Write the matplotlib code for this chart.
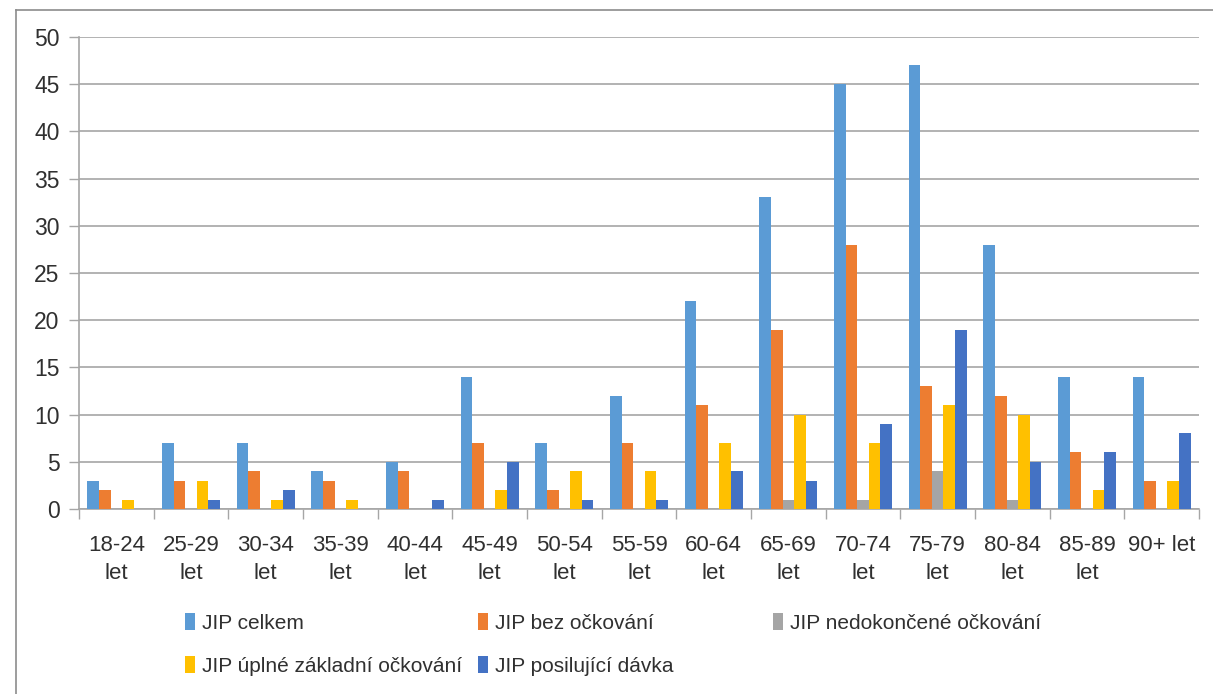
import numpy as np
import matplotlib
matplotlib.use("Agg")
import matplotlib.pyplot as plt
from matplotlib.lines import Line2D
from matplotlib.patches import Patch

plt.rcParams["font.family"] = ["Liberation Sans Narrow", "Liberation Sans", "DejaVu Sans"]

CATEGORIES = ["18-24\nlet", "25-29\nlet", "30-34\nlet", "35-39\nlet", "40-44\nlet",
              "45-49\nlet", "50-54\nlet", "55-59\nlet", "60-64\nlet", "65-69\nlet",
              "70-74\nlet", "75-79\nlet", "80-84\nlet", "85-89\nlet", "90+ let"]

SERIES_NAMES = ["JIP celkem", "JIP bez očkování", "JIP nedokončené očkování",
                "JIP úplné základní očkování", "JIP posilující dávka"]

jip_celkem = [3, 7, 7, 4, 5, 14, 7, 12, 22, 33, 45, 47, 28, 14, 14]
jip_bez = [2, 3, 4, 3, 4, 7, 2, 7, 11, 19, 28, 13, 12, 6, 3]
jip_nedokoncene = [0, 0, 0, 0, 0, 0, 0, 0, 0, 1, 1, 4, 1, 0, 0]
jip_uplne = [1, 3, 1, 1, 0, 2, 4, 4, 7, 10, 7, 11, 10, 2, 3]
jip_posilujici = [0, 1, 2, 0, 1, 5, 1, 1, 4, 3, 9, 19, 5, 6, 8]

COLORS = ["#5B9BD5", "#ED7D31", "#A5A5A5", "#FFC000", "#4472C4"]
TEXT = "#303030"
GRID = "#A6A6A6"

series = [jip_celkem, jip_bez, jip_nedokoncene, jip_uplne, jip_posilujici]

W, H = 1213, 694
fig = plt.figure(figsize=(W / 100, H / 100), dpi=100)
ax = fig.add_axes([79 / W, 1 - 509 / H, (1199 - 79) / W, (509 - 37) / H])

x = np.arange(len(CATEGORIES)) + 0.5
bw = 0.155
for i, (vals, col) in enumerate(zip(series, COLORS)):
    ax.bar(x + (i - 2) * bw, vals, width=bw, color=col, zorder=3)

ax.set_xlim(0, len(CATEGORIES))
ax.set_ylim(0, 50)
ax.set_yticks(np.arange(0, 51, 5))
ax.yaxis.grid(True, color=GRID, linewidth=1.2, zorder=0)
ax.tick_params(axis="y", length=7, width=1, color=GRID, labelsize=16.5,
               labelcolor=TEXT, pad=7)

ax.set_xticks(np.arange(len(CATEGORIES) + 1), minor=False)
ax.set_xticklabels([])
ax.set_xticks(x, minor=True)
ax.set_xticklabels(CATEGORIES, minor=True, fontsize=16, color=TEXT, linespacing=1.4)
ax.tick_params(axis="x", which="major", length=7, width=1, color=GRID)
ax.tick_params(axis="x", which="minor", length=0, pad=19)

for s in ["top", "right"]:
    ax.spines[s].set_visible(False)
for s in ["left", "bottom"]:
    ax.spines[s].set_color(GRID)
    ax.spines[s].set_linewidth(1.2)

# outer chart frame (only top and left edges are visible in the crop)
fig.add_artist(Line2D([16 / W, 16 / W], [0, 1 - 10 / H], color="#8C8C8C", lw=1.2))
fig.add_artist(Line2D([16 / W, 1], [1 - 10 / H, 1 - 10 / H], color="#8C8C8C", lw=1.2))

# legend laid out in three evenly spaced columns like Excel
handles = [Patch(facecolor=c) for c in COLORS]
columns = [[0, 3], [1, 4], [2]]
col_x = [185, 478, 773]
for cx, idxs in zip(col_x, columns):
    leg = fig.legend([handles[i] for i in idxs], [SERIES_NAMES[i] for i in idxs],
                     loc="upper left", bbox_to_anchor=(cx / W, 1 - 613 / H),
                     frameon=False, fontsize=15, handlelength=0.5, handleheight=0.85,
                     handletextpad=0.3, labelspacing=1.15, borderpad=0,
                     borderaxespad=0)
    for t in leg.get_texts():
        t.set_color(TEXT)

fig.savefig("out.png", dpi=100)
